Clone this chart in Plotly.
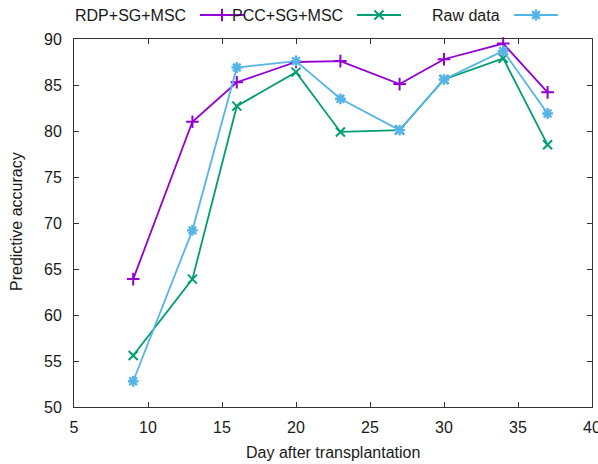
import plotly.graph_objects as go

# ---- data ----
days = [9, 13, 16, 20, 23, 27, 30, 34, 37]
rdp_sg_msc = [63.9, 81.0, 85.3, 87.5, 87.6, 85.1, 87.8, 89.5, 84.2]
pcc_sg_msc = [55.6, 63.9, 82.7, 86.4, 79.9, 80.1, 85.6, 87.9, 78.5]
raw_data = [52.8, 69.2, 86.9, 87.6, 83.5, 80.1, 85.6, 88.7, 81.9]
series_names = ["RDP+SG+MSC", "PCC+SG+MSC", "Raw data"]
x_ticks = [5, 10, 15, 20, 25, 30, 35, 40]
y_ticks = [50, 55, 60, 65, 70, 75, 80, 85, 90]

# ---- style ----
W, H = 598, 464
L, R, B = 74, 6, 57
TOP = 39  # pixel y of plot top
FONT = "Liberation Sans, Arial, sans-serif"
TXT = "#1a1a1a"
colors = ["#9400D3", "#009E73", "#56B4E9"]
symbols = ["cross-thin", "x-thin", "asterisk"]
msizes = [9, 9, 9]
mlw = [2, 2, 2.4]

plot_h = H - B          # paper height in px (margin top = 0)
plot_w = W - L - R
main_top = (plot_h - TOP) / plot_h


def px_x(px):
    return (px - L) / plot_w


def px_y(py):
    return (plot_h - py) / plot_h


fig = go.Figure()
for vals, name, c, s, ms, lw in zip([rdp_sg_msc, pcc_sg_msc, raw_data], series_names, colors, symbols, msizes, mlw):
    fig.add_trace(go.Scatter(
        x=days, y=vals, name=name, mode="lines+markers",
        line=dict(color=c, width=1.8),
        marker=dict(symbol=s, size=ms, color=c, line=dict(color=c, width=lw)),
        showlegend=False, cliponaxis=False,
    ))

# ---- custom gnuplot-style key (text then sample) in an overlay strip ----
key_text_right = [188, 345, 502]
key_y = 15
annotations = []
for i, (name, c, s, ms, lw) in enumerate(zip(series_names, colors, symbols, msizes, mlw)):
    xr = key_text_right[i]
    x0, x1 = xr + 12, xr + 56
    fig.add_trace(go.Scatter(
        x=[x0, x1], y=[key_y, key_y], mode="lines", line=dict(color=c, width=1.8),
        xaxis="x2", yaxis="y2", showlegend=False, hoverinfo="skip",
    ))
    fig.add_trace(go.Scatter(
        x=[(x0 + x1) / 2], y=[key_y], mode="markers",
        marker=dict(symbol=s, size=ms, color=c, line=dict(color=c, width=lw)),
        xaxis="x2", yaxis="y2", showlegend=False, hoverinfo="skip",
    ))
    annotations.append(dict(
        x=px_x(xr), y=px_y(key_y), xref="paper", yref="paper", text=name, showarrow=False,
        xanchor="right", yanchor="middle", font=dict(family=FONT, size=16, color=TXT),
    ))

annotations.append(dict(
    x=0.5, y=px_y(452), xref="paper", yref="paper", text="Day after transplantation",
    showarrow=False, xanchor="center", yanchor="middle",
    font=dict(family=FONT, size=16, color=TXT),
))
annotations.append(dict(
    x=px_x(17), y=px_y(222), xref="paper", yref="paper", text="Predictive accuracy",
    showarrow=False, textangle=-90, xanchor="center", yanchor="middle",
    font=dict(family=FONT, size=16, color=TXT),
))

axis_common = dict(
    showline=True, linecolor="#333", linewidth=1, mirror="allticks",
    ticks="inside", ticklen=5, tickcolor="#333", tickwidth=1,
    showgrid=False, zeroline=False, ticklabeloverflow="allow", automargin=False,
    tickfont=dict(family=FONT, size=16, color=TXT),
)

fig.update_layout(
    width=W, height=H,
    margin=dict(l=L, r=R, t=0, b=B, pad=0, autoexpand=False),
    paper_bgcolor="white", plot_bgcolor="white",
    xaxis=dict(range=[5, 40], tickvals=x_ticks, ticklabelstandoff=6, **axis_common),
    yaxis=dict(range=[50, 90], tickvals=y_ticks, domain=[0, main_top], ticklabelstandoff=8, **axis_common),
    xaxis2=dict(range=[L, W - R], domain=[0, 1], anchor="y2", visible=False, fixedrange=True, automargin=False),
    yaxis2=dict(range=[TOP, 0], domain=[main_top, 1], anchor="x2", visible=False, fixedrange=True, automargin=False),
    annotations=annotations,
    showlegend=False,
)

fig.write_html("out.html", post_script="document.body.style.margin='0';",
               config={"displayModeBar": False})
